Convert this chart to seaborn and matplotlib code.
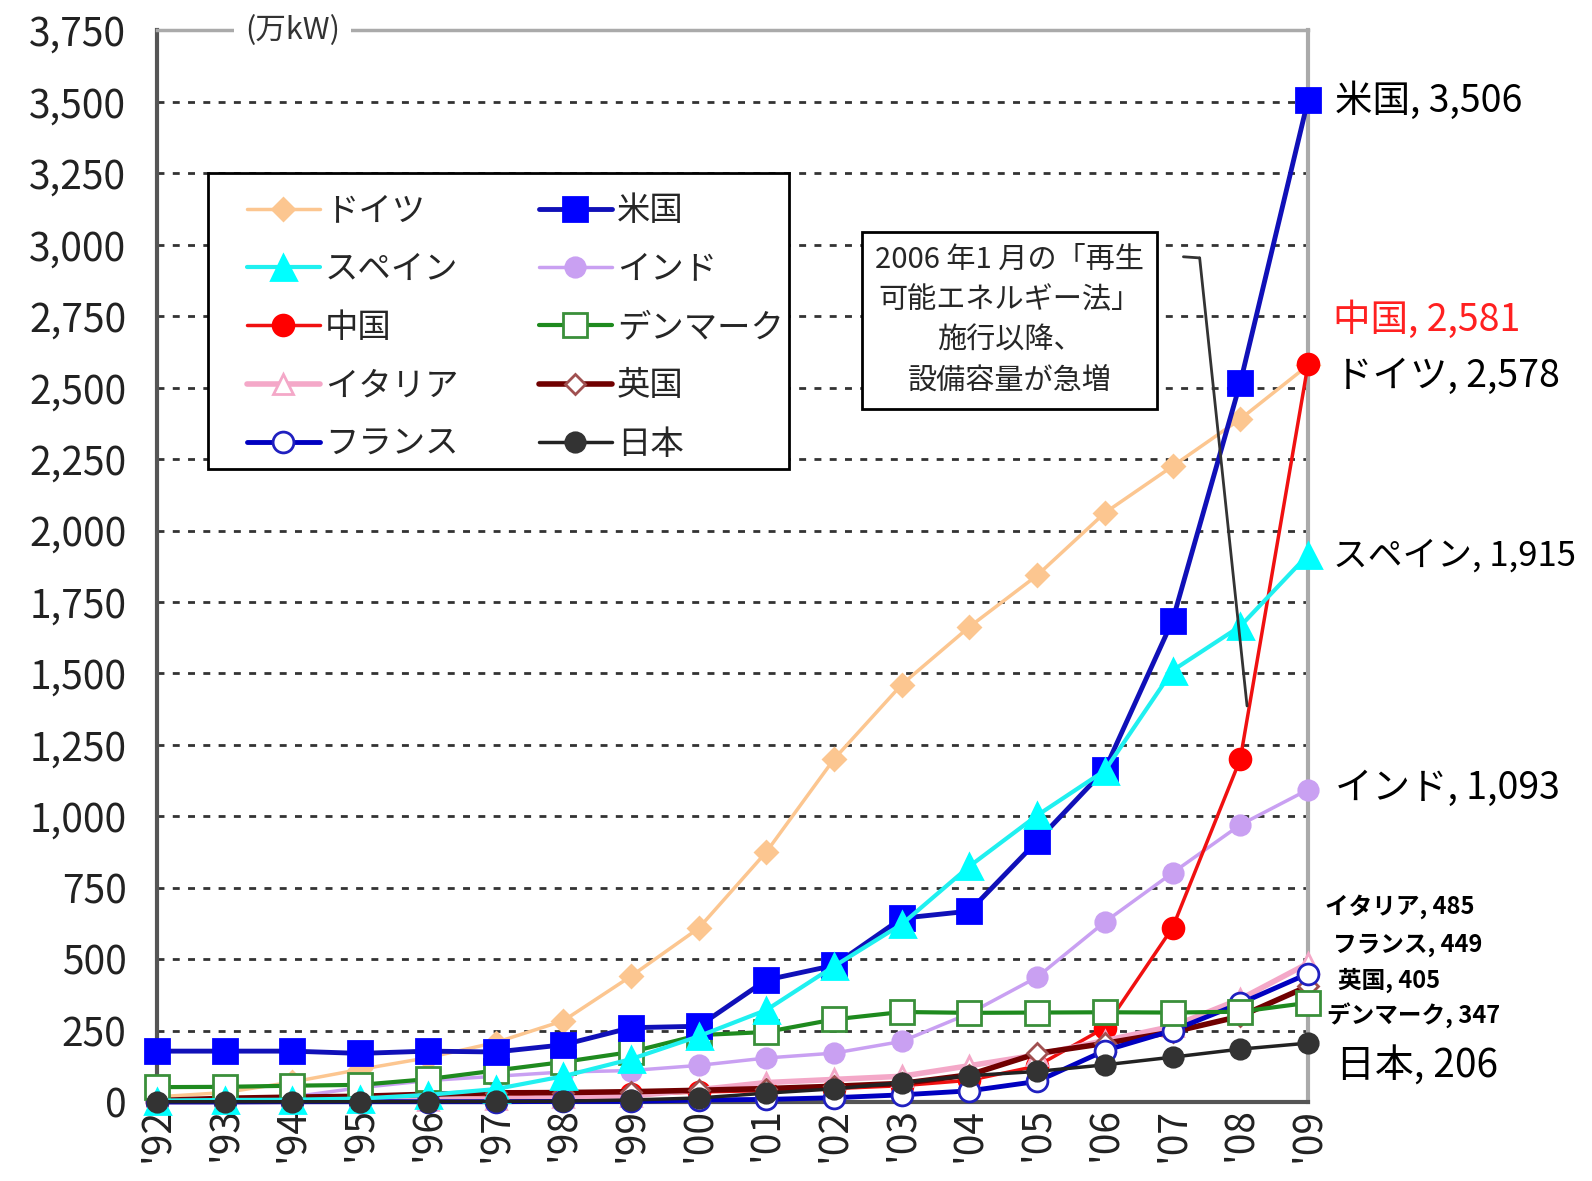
import numpy as np
import pandas as pd
import seaborn as sns
import matplotlib.pyplot as plt
from matplotlib.patches import Rectangle

# data (万kW)
years = list(range(1992, 2010))
year_labels = ["'%02d" % (y % 100) for y in years]

germany = [18, 33, 70, 114, 155, 208, 284, 440, 608, 875, 1200, 1461, 1663, 1843, 2062, 2225, 2390, 2578]
usa = [178, 178, 178, 170, 178, 175, 200, 260, 265, 427, 478, 643, 668, 913, 1163, 1685, 2517, 3506]
spain = [5, 7, 8, 12, 25, 45, 90, 150, 230, 322, 475, 622, 825, 1003, 1160, 1510, 1665, 1915]
india = [4, 8, 18, 50, 75, 90, 105, 110, 128, 154, 171, 212, 310, 437, 630, 802, 970, 1093]
china = [1, 2, 3, 4, 8, 15, 22, 27, 35, 40, 47, 57, 76, 126, 260, 610, 1200, 2581]
denmark = [52, 53, 57, 60, 80, 110, 140, 175, 234, 245, 289, 315, 312, 313, 314, 313, 316, 347]
italy = [1, 2, 2, 3, 7, 10, 18, 21, 43, 68, 79, 90, 127, 165, 215, 265, 360, 485]
uk = [5, 13, 17, 20, 27, 32, 33, 36, 41, 47, 55, 65, 95, 170, 205, 245, 300, 405]
france = [0, 0, 1, 1, 1, 1, 2, 2, 7, 9, 15, 25, 39, 72, 180, 250, 345, 449]
japan = [1, 1, 1, 1, 1, 2, 3, 7, 14, 31, 46, 68, 92, 107, 130, 157, 185, 206]

# name, values, line colour, marker, size, face, edge, line width, zorder
series = [
    ('ドイツ', germany, '#FCC690', 'D', 11, '#FCC690', '#FCC690', 2.5, 2.0),
    ('インド', india, '#C9A0F2', 'o', 14, '#C9A0F2', '#C9A0F2', 2.5, 3.0),
    ('中国', china, '#F01010', 'o', 15, '#FF0000', '#FF0000', 2.5, 3.2),
    ('イタリア', italy, '#F4A8C8', '^', 14, 'white', '#F4A8C8', 4.0, 3.3),
    ('英国', uk, '#700000', 'D', 10, 'white', '#A05050', 4.0, 3.4),
    ('フランス', france, '#0000C0', 'o', 15, 'white', '#2020C0', 3.5, 3.5),
    ('デンマーク', denmark, '#1E8A1E', 's', 17, 'white', '#3A8F3A', 3.0, 3.7),
    ('米国', usa, '#1010B8', 's', 17, '#0000FF', '#0000FF', 3.5, 4.0),
    ('スペイン', spain, '#20F0F0', '^', 18, '#00FFFF', '#00FFFF', 3.0, 4.5),
    ('日本', japan, '#222222', 'o', 14, '#333333', '#333333', 2.5, 5.0),
]

# end-of-line labels: text, y position, x position, size, colour, weight
end_labels = [
    ('米国, 3,506', 3501, 2009.40, 27, 'black', 'normal'),
    ('中国, 2,581', 2737, 2009.37, 27, '#FF2020', 'normal'),
    ('ドイツ, 2,578', 2541, 2009.40, 27, 'black', 'normal'),
    ('スペイン, 1,915', 1909, 2009.37, 25, 'black', 'normal'),
    ('インド, 1,093', 1098, 2009.40, 27, 'black', 'normal'),
    ('イタリア, 485', 683, 2009.25, 17, 'black', 'bold'),
    ('フランス, 449', 551, 2009.37, 17, 'black', 'bold'),
    ('英国, 405', 427, 2009.45, 17, 'black', 'bold'),
    ('デンマーク, 347', 302, 2009.28, 17, 'black', 'bold'),
    ('日本, 206', 124, 2009.42, 28, 'black', 'normal'),
]

sns.set_theme(style='white')
plt.rcParams['font.family'] = ['Noto Sans CJK JP', 'DejaVu Sans']

fig = plt.figure(figsize=(15.92, 11.81), dpi=100)
ax = fig.add_axes([0.0986, 0.0669, 0.723, 0.9073])

handles = {}
for name, vals, col, mk, ms, fc, ec, lw, z in series:
    sns.lineplot(x=years, y=vals, ax=ax, color=col, linewidth=lw,
                 marker=mk, markersize=ms, markerfacecolor=fc,
                 markeredgecolor=ec, markeredgewidth=2,
                 label=name, legend=False, zorder=z, clip_on=False)
    handles[name] = ax.lines[-1]

# axes
ax.set_xlim(1992, 2009)
ax.set_ylim(0, 3750)
yt = np.arange(0, 3751, 250)
ax.set_yticks(yt)
ax.set_yticklabels([f'{v:,}' for v in yt])
ax.set_xticks(years)
ax.set_xticklabels(year_labels, rotation=90)
ax.set_xlabel('')
ax.set_ylabel('')
ax.tick_params(axis='y', direction='in', length=8, width=2, color='#555555',
               labelsize=28, pad=22, labelcolor='#222222')
ax.tick_params(axis='x', direction='in', length=8, width=2, color='#555555',
               labelsize=28, pad=4, labelcolor='#222222')

ax.grid(axis='y', linestyle=(0, (2.5, 3)), color='#333333', linewidth=2)
ax.grid(axis='x', visible=False)
gl = ax.get_ygridlines()
gl[0].set_visible(False)
gl[-1].set_visible(False)
ax.set_axisbelow(True)

ax.spines['left'].set_color('#555555')
ax.spines['left'].set_linewidth(3)
ax.spines['bottom'].set_color('#555555')
ax.spines['bottom'].set_linewidth(3)
ax.spines['right'].set_color('#AAAAAA')
ax.spines['right'].set_linewidth(3)
ax.spines['top'].set_color('#AAAAAA')
ax.spines['top'].set_linewidth(2.5)

# unit label sitting on the top frame
ax.text(1994.0, 3750, '(万kW)', ha='center', va='center', fontsize=22,
        color='#333333', zorder=10, clip_on=False,
        bbox=dict(boxstyle='square,pad=0.35', fc='white', ec='none'))

# legend: frame drawn separately so the inner margins can match
ax.add_patch(Rectangle((0.0443, 0.591), 0.5047, 0.276, transform=ax.transAxes,
                       fc='white', ec='black', lw=2, zorder=19))
order = ['ドイツ', 'スペイン', '中国', 'イタリア', 'フランス',
         '米国', 'インド', 'デンマーク', '英国', '日本']
leg = ax.legend([handles[n] for n in order], order, ncol=2,
                loc='upper left', bbox_to_anchor=(0.078, 0.848),
                borderaxespad=0, borderpad=0, fontsize=24, handlelength=2.2,
                handletextpad=0.15, columnspacing=2.4, labelspacing=0.7,
                frameon=False)
leg.set_zorder(20)

# law annotation
ax.text(2004.59, 2735, '2006 年1 月の「再生\n可能エネルギー法」\n施行以降、\n設備容量が急増',
        ha='center', va='center', fontsize=21, linespacing=1.45, zorder=20,
        bbox=dict(boxstyle='square,pad=0.45', fc='white', ec='black', lw=2))
ax.annotate('', xy=(2008.1, 1386), xytext=(2007.4, 2954),
            arrowprops=dict(arrowstyle='-', color='#333333', lw=2,
                            shrinkA=0, shrinkB=0), zorder=19)
ax.annotate('', xy=(2007.4, 2954), xytext=(2007.16, 2958),
            arrowprops=dict(arrowstyle='-', color='#333333', lw=2,
                            shrinkA=0, shrinkB=0), zorder=19)

# end labels
for txt, y, x, fs, col, wt in end_labels:
    ax.text(x, y, txt, ha='left', va='center', fontsize=fs, color=col,
            fontweight=wt, clip_on=False)

fig.savefig('out.png', dpi=100)
